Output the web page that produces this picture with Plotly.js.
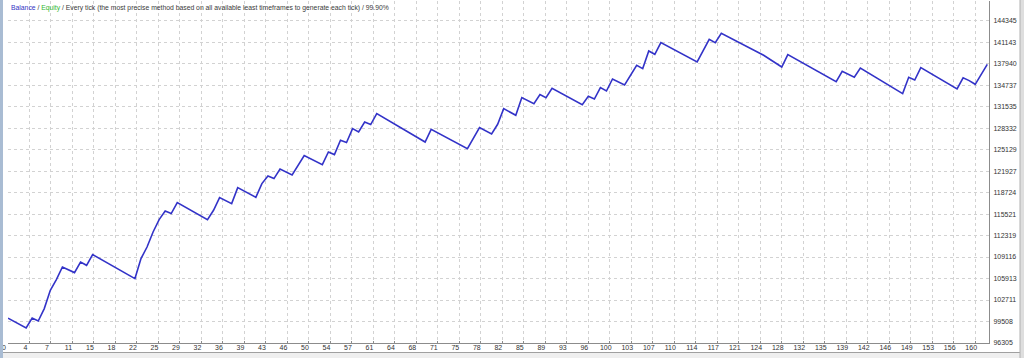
<!DOCTYPE html>
<html>
<head>
<meta charset="utf-8">
<script src="https://cdn.plot.ly/plotly-3.0.1.min.js"></script>
<style>
html,body{margin:0;padding:0;background:#ffffff;}
#chart{width:1024px;height:358px;}
</style>
</head>
<body>
<div id="chart"></div>
<script>
// Trade number (x) and balance (y) at each corner of the curve
var tradeNo = [0,3,4,5,6,7,8,9,11,12,13,14,21,22,23,24,25,26,27,28,33,34,35,37,38,41,42,43,44,45,47,49,52,53,54,55,56,57,58,59,60,61,69,70,76,78,80,81,82,84,85,87,88,89,90,95,96,97,98,99,100,102,104,105,106,107,108,114,116,117,118,125,128,129,137,138,140,141,148,149,150,151,157,158,159,160,162];
var balance = [100000,98540,100031,99584,101432,104159,105753,107631,106797,108376,107885,109479,105903,108883,110612,112847,114695,115977,115590,117229,114695,116081,117974,117080,119464,118019,120060,121193,120806,122236,121342,124233,122892,124770,124382,126513,126171,128257,127750,129241,128853,130492,126260,128153,125276,128406,127467,128898,131238,130239,132877,131983,133324,132877,134263,131834,133071,132668,134367,133861,135649,134755,137691,137199,139822,139330,141073,138182,141565,141073,142460,139181,137437,139285,135261,136796,135902,137288,133473,135902,135500,137348,134159,135828,135410,134859,137840];

// Axis tick labels
var xTickLabels = ["0","4","7","11","15","18","22","25","29","32","36","39","43","46","50","54","57","61","64","68","71","75","78","82","85","89","93","96","100","103","107","110","114","117","121","124","128","132","135","139","142","146","149","153","156","160"];
var yTickLabels = [96305,99508,102711,105913,109116,112319,115521,118724,121927,125129,128332,131535,134737,137940,141143,144345];

var titleParts = ["Balance", "Equity", "Every tick (the most precise method based on all available least timeframes to generate each tick)", "99.90%"];

// grid lines are evenly spaced: one every 160/45 trades
var xLast = Number(xTickLabels[xTickLabels.length - 1]);
var xTickVals = xTickLabels.map(function (t, k) { return k * xLast / (xTickLabels.length - 1); });

var W = 1024, H = 358, mL = 8, mR = 35, mT = 1, mB = 15;
var pw = W - mL - mR, ph = H - mT - mB;
function px(x) { return (x - mL) / pw; }
function py(y) { return (H - mB - y) / ph; }

var yStep = (yTickLabels[yTickLabels.length - 1] - yTickLabels[0]) / (yTickLabels.length - 1);
var yPxPerStep = 21.49;
var yTop = yTickLabels[0] + ph / yPxPerStep * yStep;
var xTop = pw / 6.045;

var trace = {
  x: tradeNo,
  y: balance,
  type: 'scatter',
  mode: 'lines',
  line: {color: '#3333c8', width: 1.6},
  hoverinfo: 'skip'
};

var titleText = '<span style="color:#3434c4">' + titleParts[0] + '</span> / ' +
  '<span style="color:#2fb82f">' + titleParts[1] + '</span> / ' +
  titleParts[2] + ' / ' + titleParts[3];

var layout = {
  width: W, height: H,
  margin: {l: mL, r: mR, t: mT, b: mB, pad: 0},
  paper_bgcolor: '#ffffff',
  plot_bgcolor: '#ffffff',
  showlegend: false,
  font: {family: 'Liberation Sans, Arial, sans-serif', size: 7, color: '#333333'},
  title: {
    text: titleText,
    xref: 'container', yref: 'container',
    x: 11 / W, xanchor: 'left',
    y: 1 - 7.5 / H, yanchor: 'middle',
    font: {family: 'Liberation Sans, Arial, sans-serif', size: 6.8, color: '#3a3a3a'}
  },
  xaxis: {
    range: [0, xTop],
    tickmode: 'array',
    tickvals: xTickVals,
    ticktext: xTickLabels,
    showgrid: true, gridcolor: '#d2d2d2', griddash: 'dot', gridwidth: 1,
    zeroline: false,
    showline: true, linecolor: '#8c8c8c', linewidth: 1,
    ticks: 'inside', ticklen: 2, tickcolor: '#8c8c8c',
    tickfont: {size: 7, color: '#333333'},
    ticklabelshift: -4,
    ticklabelstandoff: -2,
    fixedrange: true
  },
  yaxis: {
    range: [yTickLabels[0], yTop],
    side: 'right',
    tickmode: 'array',
    tickvals: yTickLabels,
    ticktext: yTickLabels.map(String),
    showgrid: true, gridcolor: '#d2d2d2', griddash: 'dot', gridwidth: 1,
    zeroline: false,
    showline: true, linecolor: '#8c8c8c', linewidth: 1,
    ticks: '',
    tickfont: {size: 7, color: '#333333'},
    ticklabelstandoff: 2,
    fixedrange: true
  },
  shapes: [
    {type: 'rect', xref: 'paper', yref: 'paper', x0: px(0), x1: px(3), y0: py(358), y1: py(0),
      fillcolor: '#a9bcd3', line: {width: 0}, layer: 'above'},
    {type: 'rect', xref: 'paper', yref: 'paper', x0: px(3), x1: px(1024), y0: py(358), y1: py(352.5),
      fillcolor: '#efefef', line: {width: 0}, layer: 'above'},
    {type: 'line', xref: 'paper', yref: 'paper', x0: px(3), x1: px(1020), y0: py(352.5), y1: py(352.5),
      line: {color: '#a0a0a0', width: 1}},
    {type: 'rect', xref: 'paper', yref: 'paper', x0: px(1020), x1: px(1024), y0: py(358), y1: py(0),
      fillcolor: '#dedede', line: {width: 0}, layer: 'above'},
    {type: 'line', xref: 'paper', yref: 'paper', x0: px(1020), x1: px(1020), y0: py(358), y1: py(0),
      line: {color: '#b0b0b0', width: 1}}
  ]
};

Plotly.newPlot('chart', [trace], layout, {staticPlot: true, displayModeBar: false});
</script>
</body>
</html>
